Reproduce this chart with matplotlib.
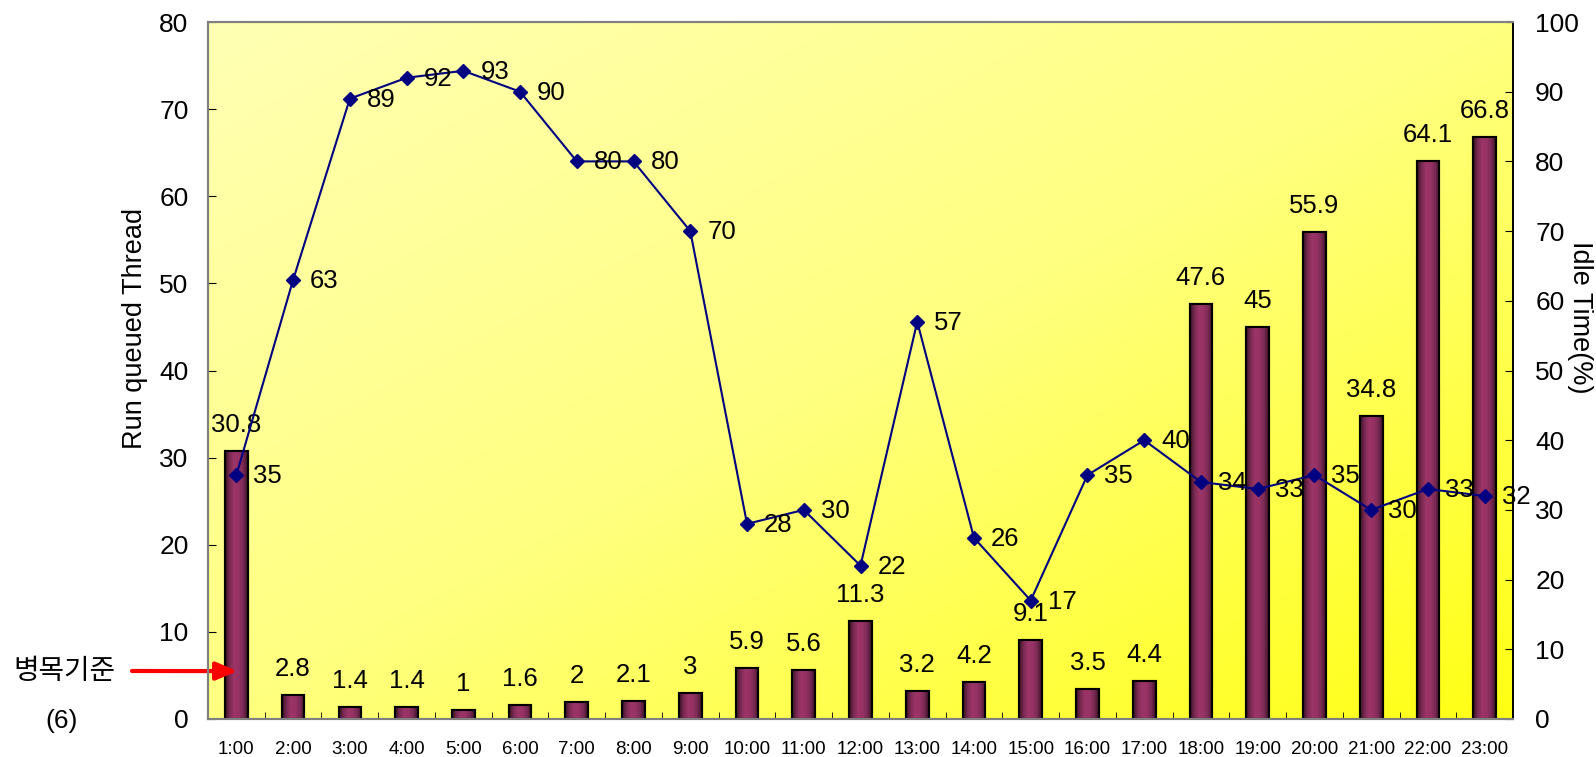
import numpy as np
import matplotlib
matplotlib.use('Agg')
import matplotlib.pyplot as plt
from matplotlib.colors import LinearSegmentedColormap

plt.rcParams['font.family'] = ['Liberation Sans', 'Noto Sans CJK KR', 'DejaVu Sans']

# data
hours = ['1:00', '2:00', '3:00', '4:00', '5:00', '6:00', '7:00', '8:00', '9:00', '10:00',
         '11:00', '12:00', '13:00', '14:00', '15:00', '16:00', '17:00', '18:00', '19:00',
         '20:00', '21:00', '22:00', '23:00']
run_queued = [30.8, 2.8, 1.4, 1.4, 1, 1.6, 2, 2.1, 3, 5.9, 5.6, 11.3, 3.2, 4.2, 9.1, 3.5,
              4.4, 47.6, 45, 55.9, 34.8, 64.1, 66.8]
idle_time = [35, 63, 89, 92, 93, 90, 80, 80, 70, 28, 30, 22, 57, 26, 17, 35, 40, 34, 33,
             35, 30, 33, 32]
bottleneck = 6

x = np.arange(len(hours))

fig = plt.figure(figsize=(15.96, 7.57), dpi=100)
ax1 = fig.add_axes([208 / 1596, 1 - 719 / 757, (1513 - 208) / 1596, (719 - 22) / 757])

# diagonal yellow gradient background
gx, gy = np.meshgrid(np.linspace(0, 1, 200), np.linspace(0, 1, 200))
grad = (gx + gy) / 2
bg = LinearSegmentedColormap.from_list('bg', ['#ffffb4', '#ffff80', '#ffff14'])
ax1.imshow(grad, cmap=bg, extent=[0, 1, 0, 1], transform=ax1.transAxes,
           aspect='auto', zorder=0, origin='upper')

# bars with cylinder-like shading
bars = ax1.bar(x, run_queued, width=0.4, color='#993366', edgecolor='black',
               linewidth=1.5, zorder=2)
shade = LinearSegmentedColormap.from_list(
    'shade', ['#3a1026', '#7a2a52', '#9c3568', '#973265', '#7a2a52', '#3a1026'])
strip = np.linspace(0, 1, 64).reshape(1, -1)
for b in bars:
    im = ax1.imshow(strip, cmap=shade, aspect='auto', zorder=2.1,
                    extent=[b.get_x(), b.get_x() + b.get_width(), 0, b.get_height()])
    im.set_clip_path(b)
    ax1.add_patch(plt.Rectangle((b.get_x(), 0), b.get_width(), b.get_height(),
                                fill=False, edgecolor='black', linewidth=1.5, zorder=2.2))
ax1.set_xlim(-0.5, len(hours) - 0.5)
ax1.set_ylim(0, 80)

for xi, v in zip(x, run_queued):
    ax1.annotate(f'{v:g}', (xi, v), xytext=(0, 14), textcoords='offset pixels',
                 ha='center', va='bottom', fontsize=18.5, zorder=5)

ax1.set_xticks(x)
ax1.set_xticklabels(hours, fontsize=13.5)
ax1.set_xticks(x[:-1] + 0.5, minor=True)
ax1.tick_params(axis='x', which='major', length=0, pad=16)
ax1.tick_params(axis='x', which='minor', direction='in', length=5)
ax1.set_yticks(np.arange(0, 81, 10))
ax1.tick_params(axis='y', direction='in', length=6, labelsize=19, pad=14)
ax1.text(-0.056, 0.561, 'Run queued Thread', transform=ax1.transAxes, rotation=90,
         ha='center', va='center', fontsize=19.5)

ax2 = ax1.twinx()
ax2.set_ylim(0, 100)
ax2.patch.set_visible(False)
ax2.plot(x, idle_time, color='#000080', lw=1.5, marker='D', markersize=7.5, zorder=3)
for xi, v in zip(x, idle_time):
    ax2.annotate(f'{v}', (xi, v), xytext=(17, -1), textcoords='offset pixels',
                 ha='left', va='center', fontsize=18.5, zorder=5)
ax2.set_yticks(np.arange(0, 101, 10))
ax2.tick_params(axis='y', direction='in', length=6, labelsize=19, pad=16)
ax2.text(1.0513, 0.577, 'Idle Time(%)', transform=ax2.transAxes, rotation=270,
         ha='center', va='center', fontsize=19.5)

for ax in (ax1, ax2):
    for side in ('top', 'left', 'bottom'):
        ax.spines[side].set_color('#808080')
        ax.spines[side].set_linewidth(1.5)
    ax.spines['right'].set_color('black')
    ax.spines['right'].set_linewidth(1.2)

# bottleneck threshold marker
ax1.annotate('', xy=(0.02, bottleneck - 0.5), xycoords='data',
             xytext=(132, 757 - 671), textcoords='figure pixels',
             arrowprops=dict(arrowstyle='-|>,head_length=1.3,head_width=0.55',
                             color='red', lw=3, shrinkA=0, shrinkB=0),
             annotation_clip=False, zorder=6)
fig.text(64 / 1596, 1 - 671 / 757, '병목기준', ha='center', va='center', fontsize=20,
         family=['Noto Sans CJK KR', 'DejaVu Sans'])
fig.text(62 / 1596, 1 - 721 / 757, f'({bottleneck})', ha='center', va='center', fontsize=19)

fig.savefig('out.png', dpi=100)
